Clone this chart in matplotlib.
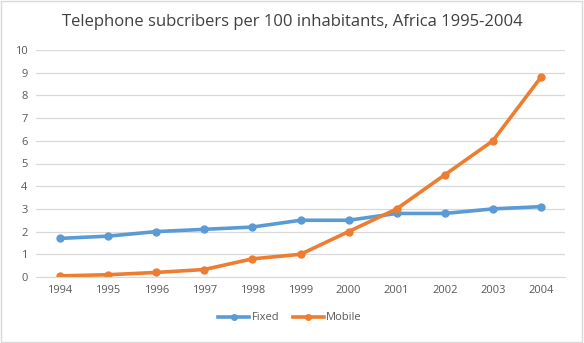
import matplotlib
matplotlib.use("Agg")
import matplotlib.pyplot as plt
from matplotlib.patches import Rectangle

years = [1994, 1995, 1996, 1997, 1998, 1999, 2000, 2001, 2002, 2003, 2004]
fixed = [1.7, 1.8, 2.0, 2.1, 2.2, 2.5, 2.5, 2.8, 2.8, 3.0, 3.1]
mobile = [0.05, 0.1, 0.2, 0.33, 0.8, 1.0, 2.0, 3.0, 4.5, 6.0, 8.8]
yticks = list(range(0, 11))

plt.rcParams['font.family'] = ['Open Sans', 'DejaVu Sans']

fig = plt.figure(figsize=(5.84, 3.43), dpi=100)
ax = fig.add_axes([36/584, 1-277/343, (565-36)/584, (277-50)/343])

ax.plot(years, fixed, color='#5B9BD5', lw=2.6, marker='o', ms=5, label='Fixed')
ax.plot(years, mobile, color='#ED7D31', lw=2.6, marker='o', ms=5, label='Mobile')

ax.set_xlim(1993.5, 2004.5)
ax.set_ylim(0, 10)
ax.set_xticks(years)
ax.set_yticks(yticks)
ax.tick_params(length=0, labelsize=8, colors='#595959', pad=6)
ax.grid(axis='y', color='#D9D9D9', lw=0.9)
ax.set_axisbelow(True)
for s in ['top', 'right', 'left']:
    ax.spines[s].set_visible(False)
ax.spines['bottom'].set_color('#D9D9D9')

fig.text(0.5, 1-22/343, 'Telephone subcribers per 100 inhabitants, Africa 1995-2004',
         ha='center', va='center', fontsize=12, color='#404040')

fig.legend(loc='center', bbox_to_anchor=(290/584, 1-318/343), ncol=2, frameon=False,
           fontsize=8, labelcolor='#595959', handlelength=2.8, columnspacing=1.2,
           handletextpad=0.2, markerscale=0.8)

fig.patches.append(Rectangle((0.002, 0.003), 0.995, 0.994, transform=fig.transFigure,
                             fill=False, edgecolor='#D9D9D9', lw=1))

fig.savefig('out.png', dpi=100)
